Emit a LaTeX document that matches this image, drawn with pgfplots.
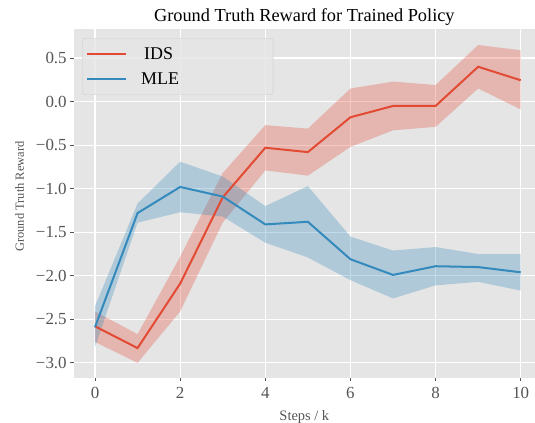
\documentclass[border=0pt]{standalone}
\usepackage{pgfplots}
\usepackage{pgfplotstable}
\pgfplotsset{compat=1.18}
\usepgfplotslibrary{fillbetween}
\usepackage{fontspec}
\setmainfont{Liberation Serif}
\definecolor{idsred}{HTML}{E24A33}
\definecolor{mleblue}{HTML}{348ABD}
\definecolor{bggray}{HTML}{E5E5E5}
\definecolor{tickgray}{HTML}{555555}
\definecolor{legedge}{HTML}{CCCCCC}

\pgfplotstableread{
x mean lo hi
0 -2.58 -2.76 -2.41
1 -2.83 -3.00 -2.67
2 -2.09 -2.41 -1.78
3 -1.10 -1.39 -0.82
4 -0.53 -0.79 -0.27
5 -0.58 -0.85 -0.31
6 -0.18 -0.52 0.15
7 -0.05 -0.33 0.23
8 -0.05 -0.29 0.19
9 0.40 0.15 0.65
10 0.245 -0.09 0.59
}\idsdata

\pgfplotstableread{
x mean lo hi
0 -2.59 -2.82 -2.35
1 -1.28 -1.39 -1.17
2 -0.98 -1.27 -0.69
3 -1.09 -1.32 -0.86
4 -1.41 -1.62 -1.20
5 -1.38 -1.79 -0.97
6 -1.81 -2.05 -1.55
7 -1.99 -2.26 -1.71
8 -1.89 -2.11 -1.67
9 -1.90 -2.07 -1.75
10 -1.96 -2.17 -1.75
}\mledata

\begin{document}
\begin{tikzpicture}
\begin{axis}[
  name=ax,
  scale only axis,
  width=461.3bp, height=348.4bp,
  xmin=-0.5, xmax=10.335,
  ymin=-3.17, ymax=0.83,
  axis background/.style={fill=bggray},
  axis line style={draw=none},
  grid=major,
  major grid style={white, line width=1.1bp},
  xtick={0,2,4,6,8,10},
  ytick={-3,-2.5,-2,-1.5,-1,-0.5,0,0.5},
  yticklabels={−3.0,−2.5,−2.0,−1.5,−1.0,−0.5,0.0,0.5},
  /pgf/number format/assume math mode=true,
  tick align=outside,
  tick pos=left,
  major tick length=3.5bp,
  tick style={tickgray, line width=0.8bp},
  ticklabel style={font=\fontsize{17}{20}\selectfont, text=tickgray},
  xticklabel style={yshift=-3bp},
  xlabel={Steps / k},
  ylabel={Ground Truth Reward},
  xlabel style={font=\fontsize{14.5}{16}\selectfont, text=tickgray, yshift=-4bp},
  ylabel style={font=\fontsize{12.5}{15}\selectfont, text=tickgray, at={(ticklabel cs:0.52)}, anchor=near ticklabel},
  ylabel shift=5bp,
  title={Ground Truth Reward for Trained Policy},
  title style={font=\fontsize{18.4}{21}\selectfont, yshift=-6bp},
  legend style={at={(0.018,0.975)}, anchor=north west,
    draw=legedge, fill=bggray, fill opacity=0.8, text opacity=1,
    rounded corners=3bp, font=\fontsize{18}{21}\selectfont,
    inner xsep=4bp, inner ysep=7bp, row sep=8bp},
  legend cell align=left,
  legend image code/.code={\draw[#1, line width=2bp] (0bp,0bp) -- (39bp,0bp);},
]
\addplot[name path=idshi, draw=none, forget plot] table[x=x, y=hi] {\idsdata};
\addplot[name path=idslo, draw=none, forget plot] table[x=x, y=lo] {\idsdata};
\addplot[idsred, fill opacity=0.3, draw=none, forget plot] fill between[of=idshi and idslo];
\addplot[name path=mlehi, draw=none, forget plot] table[x=x, y=hi] {\mledata};
\addplot[name path=mlelo, draw=none, forget plot] table[x=x, y=lo] {\mledata};
\addplot[mleblue, fill opacity=0.3, draw=none, forget plot] fill between[of=mlehi and mlelo];
\addplot[idsred, line width=2bp, no marks] table[x=x, y=mean] {\idsdata};
\addlegendentry{\hspace*{12bp}\makebox[126bp][l]{\,IDS}}
\addplot[mleblue, line width=2bp, no marks] table[x=x, y=mean] {\mledata};
\addlegendentry{\hspace*{12bp}\makebox[126bp][l]{MLE}}
\end{axis}
\pgfresetboundingbox
\path[use as bounding box] (ax.south west) ++(-73.7bp,-45.3bp) rectangle ++(535bp,423bp);
\end{tikzpicture}
\end{document}
